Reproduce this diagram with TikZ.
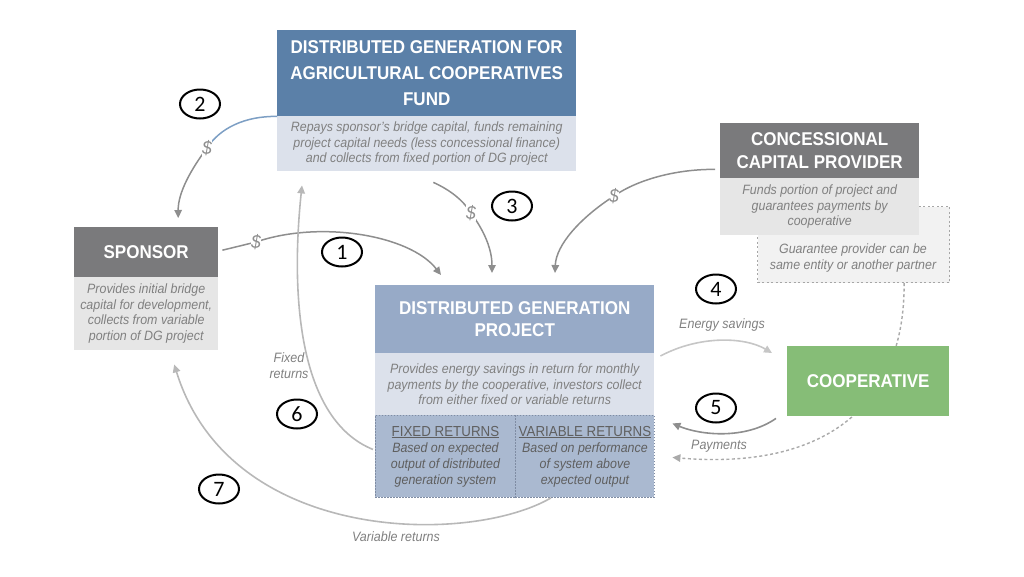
\documentclass[tikz,border=0pt]{standalone}
\usepackage{fontspec}
\setmainfont{Liberation Sans}[FakeStretch=0.92]
\newfontfamily\numfont{Carlito}
\usetikzlibrary{arrows.meta,shapes.geometric}
\definecolor{fundblue}{HTML}{5B80A8}
\definecolor{paleblue}{HTML}{DCE1EB}
\definecolor{dgblue}{HTML}{97AAC7}
\definecolor{retblue}{HTML}{AAB9D0}
\definecolor{retborder}{HTML}{7F8CA3}
\definecolor{hdrgray}{HTML}{7A7A7C}
\definecolor{palegray}{HTML}{E6E6E6}
\definecolor{guarfill}{HTML}{F2F2F2}
\definecolor{guarborder}{HTML}{A6A6A6}
\definecolor{coopgreen}{HTML}{86BD77}
\definecolor{descgray}{HTML}{808080}
\definecolor{rettext}{HTML}{5F5F5F}
\definecolor{arrowgray}{HTML}{8E8E8E}
\definecolor{lightarrow}{HTML}{C6C6C6}
\definecolor{retarrow}{HTML}{B8B8B8}
\definecolor{bluearrow}{HTML}{7D9FC4}
\definecolor{dashgray}{HTML}{AAAAAA}
\newcommand{\rettitle}[1]{{\fontsize{14.5}{17}\selectfont\underline{#1}}}
\newcommand{\retline}[1]{{\fontsize{13.5}{16}\selectfont\itshape #1}}
\begin{document}
\begin{tikzpicture}[x=1pt,y=-1pt,
  hdr/.style={inner sep=0pt,anchor=north west,align=center,text=white,
    font=\fontsize{18.5}{22.5}\selectfont\bfseries},
  desc/.style={inner sep=0pt,anchor=north west,align=center,text=descgray,
    font=\fontsize{13.5}{15.5}\selectfont\itshape},
  retbox/.style={inner sep=0pt,anchor=north west,align=center,text=rettext,
    fill=retblue,draw=retborder,line width=0.9pt,dash pattern=on 1.5pt off 1.5pt,
    font=\fontsize{13.5}{16}\selectfont},
  num/.style={ellipse,draw=black,line width=2pt,minimum width=40pt,
    minimum height=29pt,inner sep=0pt,font=\numfont\fontsize{22}{22}\selectfont},
  dollar/.style={fill=white,inner sep=0.6pt,text=arrowgray,
    font=\fontsize{19}{19}\selectfont\itshape},
  lbl/.style={text=descgray,align=center,font=\fontsize{13.6}{16}\selectfont\itshape},
  arr/.style={-{Triangle[length=8pt,width=7.5pt]}},
  gline/.style={draw=arrowgray,line width=1.5pt},
  bline/.style={draw=bluearrow,line width=1.5pt},
  rline/.style={draw=retarrow,line width=1.6pt},
  eline/.style={draw=lightarrow,line width=1.6pt},
  pline/.style={draw=arrowgray,line width=1.6pt},
  dline/.style={draw=dashgray,line width=1.4pt,dash pattern=on 3pt off 2.5pt}
]
\useasboundingbox (0,0) rectangle (1024,576);

% Fund
\node[hdr,fill=fundblue,minimum width=299pt,minimum height=86pt,
  font=\fontsize{18.5}{26}\selectfont\bfseries] (fundH) at (277,30)
  {DISTRIBUTED GENERATION FOR\\AGRICULTURAL COOPERATIVES\\FUND};
\node[desc,fill=paleblue,minimum width=299pt,minimum height=55pt] (fundD) at (277,116)
  {Repays sponsor’s bridge capital, funds remaining\\project capital needs (less concessional finance)\\and collects from fixed portion of DG project};

% Guarantee box and concessional capital provider
\node[inner sep=0pt,anchor=north west,minimum width=192pt,minimum height=76pt,
  fill=guarfill,draw=guarborder,line width=1.1pt,dash pattern=on 2pt off 2.5pt] (guar) at (757,206) {};
\node[lbl,font=\fontsize{13.5}{16.5}\selectfont\itshape] (guarT) at (853,258)
  {Guarantee provider can be\\same entity or another partner};
\node[hdr,fill=hdrgray,minimum width=199pt,minimum height=55pt] (ccpH) at (720,123)
  {CONCESSIONAL\\CAPITAL PROVIDER};
\node[desc,fill=palegray,minimum width=199pt,minimum height=57pt] (ccpD) at (720,178)
  {Funds portion of project and\\guarantees payments by\\cooperative};

% Sponsor
\node[hdr,fill=hdrgray,minimum width=144pt,minimum height=50pt] (sponH) at (74,227) {SPONSOR};
\node[desc,fill=palegray,minimum width=144pt,minimum height=73pt] (sponD) at (74,277)
  {Provides initial bridge\\capital for development,\\collects from variable\\portion of DG project};

% DG project
\node[hdr,fill=dgblue,minimum width=279pt,minimum height=68pt] (dgH) at (375,285)
  {DISTRIBUTED GENERATION\\PROJECT};
\node[desc,fill=paleblue,minimum width=279pt,minimum height=62pt] (dgD) at (375,353)
  {Provides energy savings in return for monthly\\payments by the cooperative, investors collect\\from either fixed or variable returns};
\node[retbox,minimum width=140pt,minimum height=82pt] (fixed) at (375,415)
  {\rettitle{FIXED RETURNS}\\\retline{Based on expected}\\\retline{output of distributed}\\\retline{generation system}};
\node[retbox,minimum width=139pt,minimum height=82pt] (var) at (515,415)
  {\rettitle{VARIABLE RETURNS}\\\retline{Based on performance}\\\retline{of system above}\\\retline{expected output}};

% Dotted guarantee connector (behind cooperative)
\draw[dline,-{Triangle[length=8pt,width=7.5pt]},dashgray] ([xshift=-46pt]guar.south east)
  .. controls (905,410) and (820,470) .. ([xshift=18pt,yshift=-42pt]dgD.south east);

% Cooperative
\node[inner sep=0pt,anchor=north west,fill=coopgreen,minimum width=162pt,minimum height=70pt,
  text=white,font=\fontsize{18.5}{22}\selectfont\bfseries] (coop) at (787,346) {COOPERATIVE};

% Dollar positions
\coordinate (c1) at (256,242);
\coordinate (c2) at (207,148);
\coordinate (c3) at (471,213);
\coordinate (c4) at (614,196);

% Arrow 2: fund -> sponsor
\draw[bline] (fundH.south west) .. controls (245,116) and (220,128) .. (c2);
\draw[gline,arr] (c2) .. controls (192,168) and (178,192) .. ([xshift=32pt,yshift=9pt]sponH.north);

% Arrow 1: sponsor -> DG
\draw[gline] ([xshift=4pt,yshift=2pt]sponH.east) -- (c1);
\draw[gline,arr] (c1) .. controls (320,220) and (410,235) .. ([xshift=66pt,yshift=10pt]dgH.north west);

% Arrow 3: fund -> DG
\draw[gline] ([xshift=-143pt,yshift=-11pt]fundD.south east) .. controls (450,190) and (463,200) .. (c3);
\draw[gline,arr] (c3) .. controls (485,232) and (492,250) .. ([xshift=117pt,yshift=12pt]dgH.north west);

% Concessional -> DG
\draw[gline] ([xshift=-5pt,yshift=9pt]ccpH.south west) .. controls (680,169) and (640,178) .. (c4);
\draw[gline,arr] (c4) .. controls (580,218) and (556,245) .. ([xshift=180pt,yshift=12pt]dgH.north west);

% Fixed returns -> fund
\draw[rline,arr] ([xshift=-2pt,yshift=7pt]fixed.west) .. controls (300,420) and (290,300)
  .. ([xshift=25pt,yshift=-14pt]fundD.south west);

% Variable returns -> sponsor
\draw[rline,arr] ([xshift=-34pt]var.south) .. controls (470,545) and (230,545)
  .. ([xshift=28pt,yshift=-14pt]sponD.south);

% Energy savings
\draw[eline,arr] ([xshift=6pt,yshift=-3pt]dgD.north east) .. controls (700,335) and (745,337)
  .. ([xshift=-15pt,yshift=-7pt]coop.north west);

% Payments
\draw[pline,arr] ([xshift=-11pt,yshift=-2pt]coop.south west) .. controls (745,440) and (700,435)
  .. ([xshift=18pt,yshift=-8pt]dgD.south east);

% Dollar labels
\node[dollar] (d1) at (c1) {\$};
\node[dollar] (d2) at (c2) {\$};
\node[dollar] (d3) at (c3) {\$};
\node[dollar] (d4) at (c4) {\$};

% Labels
\node[lbl] (lEnergy) at (722,325) {Energy savings};
\node[lbl] (lPay) at (719,446) {Payments};
\node[lbl] (lFixed) at (289,366) {Fixed\\returns};
\node[lbl] (lVar) at (396,537) {Variable returns};

% Step numbers
\node[num] (n1) at (342,252) {1};
\node[num] (n2) at (200,104) {2};
\node[num] (n3) at (512,206) {3};
\node[num] (n4) at (716,289) {4};
\node[num] (n5) at (716,408) {5};
\node[num] (n6) at (297,414) {6};
\node[num] (n7) at (219,489) {7};
\end{tikzpicture}
\end{document}
